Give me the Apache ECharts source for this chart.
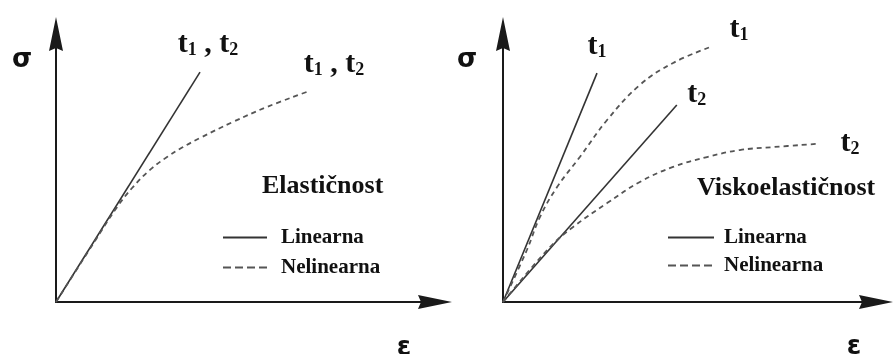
<!DOCTYPE html>
<html>
<head>
<meta charset="utf-8">
<script src="https://cdn.jsdelivr.net/npm/echarts@6/dist/echarts.min.js"></script>
<style>
  html, body { margin: 0; padding: 0; background: #fff; }
  #chart { width: 893px; height: 354px; }
</style>
</head>
<body>
<div id="chart"></div>
<script>
// Strain (x) and stress (y) in arbitrary units, 0–100 on both axes.

// Elastic material: one linear and one nonlinear response (same for t1, t2)
const elasticLinear = [[0, 0], [38.0, 85.8]];
const elasticNonlinear = [[0, 0], [11.6, 25.7], [16.1, 35.4], [20.3, 42.9], [24.8, 49.3], [29.3, 54.1],
  [33.5, 57.8], [38.0, 61.2], [46.7, 67.2], [55.7, 72.8], [66.2, 78.4]];

// Viscoelastic material: responses depend on loading time t1 / t2
const viscoLinearT1 = [[0, 0], [25.2, 85.4]];
const viscoLinearT2 = [[0, 0], [46.6, 73.5]];
const viscoNonlinearT1 = [[0, 0], [6.4, 19.4], [9.9, 31.7], [14.5, 42.9], [20.6, 54.1], [27.9, 67.9],
  [36.7, 81.0], [45.6, 89.2], [55.5, 95.1]];
const viscoNonlinearT2 = [[0, 0], [12.6, 20.5], [18.8, 28.0], [27.9, 36.9], [36.7, 44.8], [45.6, 50.4],
  [54.7, 54.1], [63.5, 56.7], [72.4, 57.8], [84.2, 59.0]];

const seriesNames = ['Linearna', 'Nelinearna'];
const panelTitles = ['Elastičnost', 'Viskoelastičnost'];
const timeLabels = {
  both: '{t|t}{s|1}{t| , }{t|t}{s|2}',
  t1: '{t|t}{s|1}',
  t2: '{t|t}{s|2}'
};
const axisNames = { stress: 'σ', strain: 'ε' };

const SERIF = 'Liberation Serif, Times New Roman, serif';
const SANS = 'DejaVu Sans, sans-serif';
const INK = '#111';

const labelRich = {
  t: { fontFamily: SERIF, fontWeight: 'bold', fontSize: 30, lineHeight: 30, verticalAlign: 'bottom', color: INK },
  s: { fontFamily: SERIF, fontWeight: 'bold', fontSize: 18, lineHeight: 20, verticalAlign: 'bottom', color: INK }
};

const solidStyle = { color: '#333', width: 1.6 };
const dashedStyle = { color: '#555', width: 1.8, type: [5, 4] };

// One curve; its last point carries the time label
function curve(name, data, gridIndex, dashed, text, offset) {
  const last = data.length - 1;
  return {
    type: 'line',
    name: name,
    xAxisIndex: gridIndex,
    yAxisIndex: gridIndex,
    data: data.map((p, i) => i === last
      ? { value: p, label: { show: true, position: 'inside', offset: offset, formatter: text, rich: labelRich } }
      : p),
    smooth: dashed ? 0.4 : false,
    symbol: 'circle',
    symbolSize: 0,
    showSymbol: true,
    silent: true,
    emphasis: { disabled: true },
    itemStyle: { color: dashed ? dashedStyle.color : solidStyle.color },
    lineStyle: dashed ? dashedStyle : solidStyle
  };
}

const arrowPath = 'path://M7,0 L14,34 L7,31 L0,34 Z';
function axisPair(gridIndex) {
  const line = {
    show: true,
    onZero: false,
    symbol: ['none', arrowPath],
    symbolSize: [14, 34],
    lineStyle: { color: '#1a1a1a', width: 2 }
  };
  const common = {
    type: 'value', gridIndex: gridIndex, min: 0, max: 100,
    axisLine: line, axisTick: { show: false }, axisLabel: { show: false }, splitLine: { show: false }
  };
  return [common, Object.assign({}, common)];
}
const leftAxes = axisPair(0);
const rightAxes = axisPair(1);

function legendFor(left, top, gap, iconWidth, textGap) {
  return {
    data: [seriesNames[0], { name: seriesNames[1], lineStyle: { type: [8, 4] } }],
    orient: 'vertical',
    left: left,
    top: top,
    padding: 0,
    itemGap: gap,
    itemWidth: iconWidth,
    itemHeight: 8,
    selectedMode: false,
    itemStyle: { color: 'rgba(0,0,0,0)', borderWidth: 0, opacity: 0 },
    textStyle: { fontFamily: SERIF, fontWeight: 'bold', fontSize: 21, lineHeight: 21, color: INK, padding: [0, 0, 4, textGap] }
  };
}

function titleFor(text, left, top) {
  return {
    text: text, left: left, top: top, padding: 0,
    textStyle: { fontFamily: SERIF, fontWeight: 'bold', fontSize: 26, lineHeight: 26, color: INK }
  };
}

function symbolText(text, x, y) {
  return {
    type: 'text', x: x, y: y, silent: true,
    style: { text: text, fontFamily: SANS, fontWeight: 'bold', fontSize: 26, fill: INK, align: 'center', verticalAlign: 'middle' }
  };
}

const chart = echarts.init(document.getElementById('chart'), null, { renderer: 'canvas' });
chart.setOption({
  backgroundColor: '#fff',
  animation: false,
  title: [titleFor(panelTitles[0], 262, 173), titleFor(panelTitles[1], 697, 175)],
  legend: [legendFor(222, 225, 5, 44, 9), legendFor(667, 225, 3, 46, 5)],
  grid: [
    { left: 56, top: 34, width: 379, height: 268 },
    { left: 503, top: 34, width: 373, height: 268 }
  ],
  xAxis: [leftAxes[0], rightAxes[0]],
  yAxis: [leftAxes[1], rightAxes[1]],
  graphic: [
    symbolText(axisNames.stress, 22, 60),
    symbolText(axisNames.strain, 404, 348),
    symbolText(axisNames.stress, 467, 60),
    symbolText(axisNames.strain, 854, 347)
  ],
  series: [
    curve(seriesNames[0], elasticLinear, 0, false, timeLabels.both, [8, -27.5]),
    curve(seriesNames[1], elasticNonlinear, 0, true, timeLabels.both, [27, -27.5]),
    curve(seriesNames[0], viscoLinearT1, 1, false, timeLabels.t1, [0, -26.5]),
    curve(seriesNames[0], viscoLinearT2, 1, false, timeLabels.t2, [20, -10.5]),
    curve(seriesNames[1], viscoNonlinearT1, 1, true, timeLabels.t1, [29, -17.5]),
    curve(seriesNames[1], viscoNonlinearT2, 1, true, timeLabels.t2, [33, -0.5])
  ]
});
</script>
</body>
</html>
